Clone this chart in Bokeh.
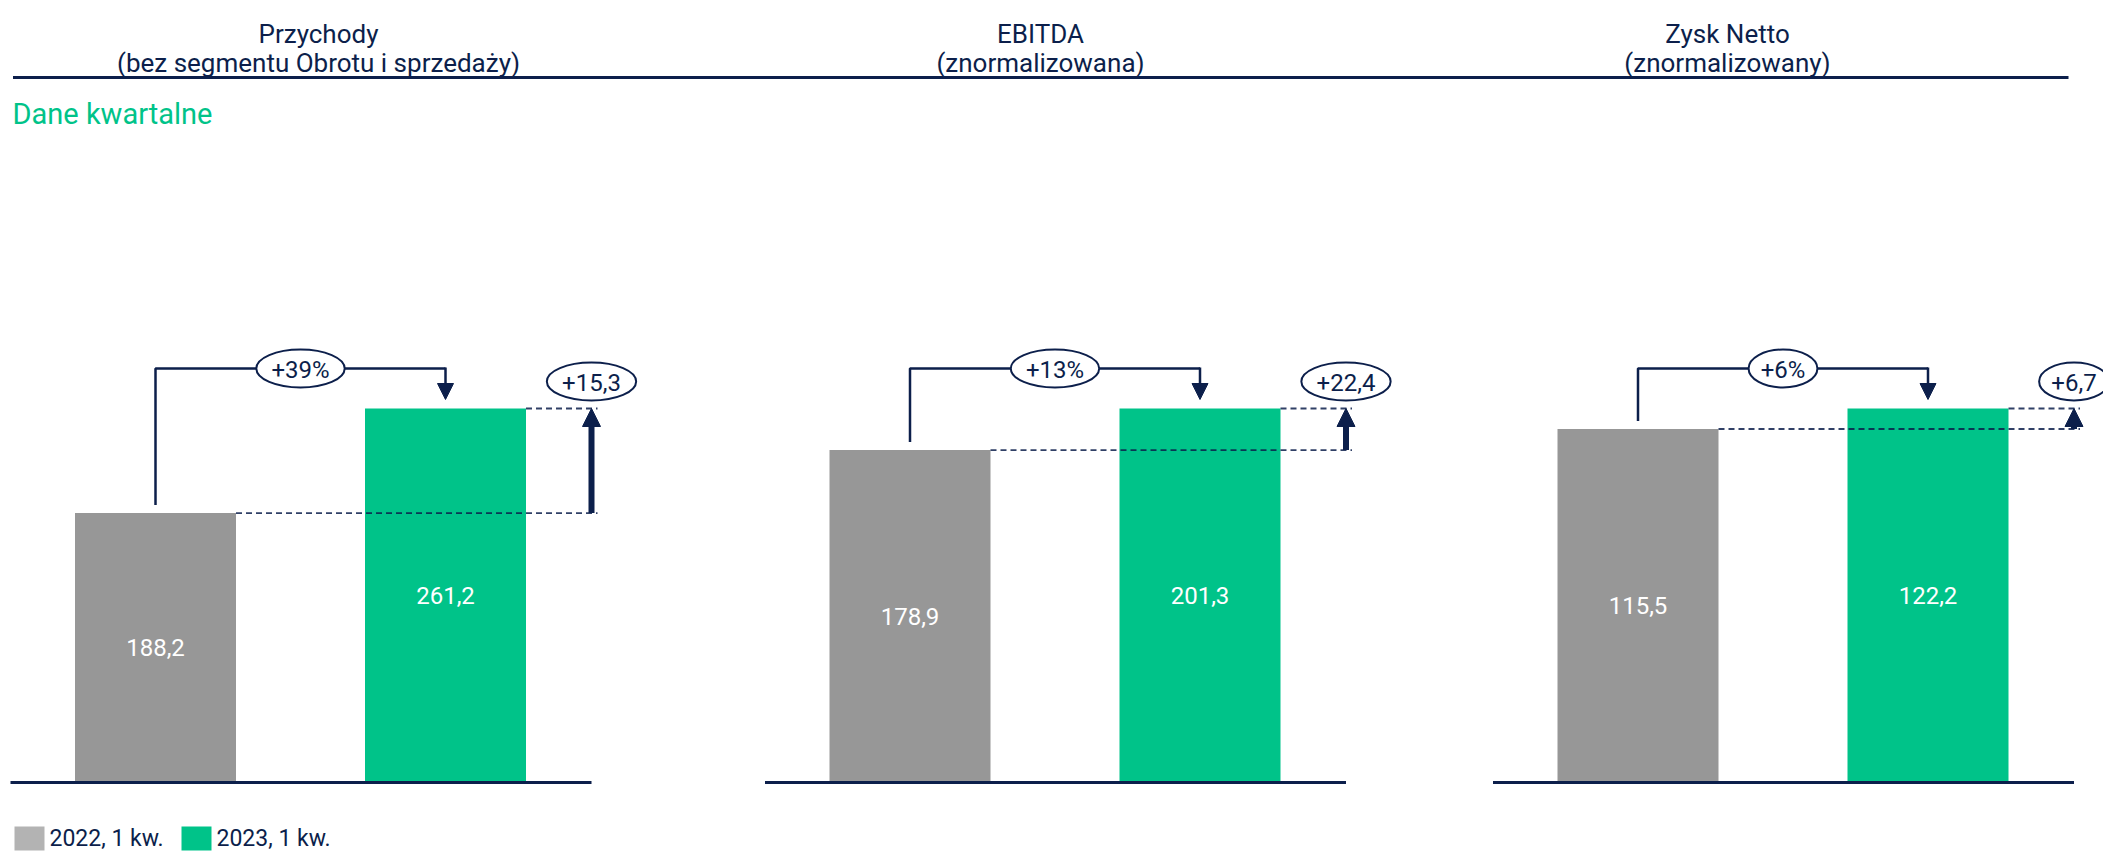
from bokeh.plotting import figure
from bokeh.models import Range1d, Arrow, NormalHead, ColumnDataSource
from bokeh.core.properties import value
from bokeh.embed import file_html
from bokeh.resources import INLINE

# ---------------- data ----------------
titles_line1 = ["Przychody", "EBITDA", "Zysk Netto"]
titles_line2 = ["(bez segmentu Obrotu i sprzedaży)", "(znormalizowana)", "(znormalizowany)"]
values_2022 = [188.2, 178.9, 115.5]
values_2023 = [261.2, 201.3, 122.2]
labels_2022 = ["188,2", "178,9", "115,5"]
labels_2023 = ["261,2", "201,3", "122,2"]
pct_labels = ["+39%", "+13%", "+6%"]
diff_labels = ["+15,3", "+22,4", "+6,7"]
legend_labels = ["2022, 1 kw.", "2023, 1 kw."]
subtitle = "Dane kwartalne"

# ---------------- style / layout ----------------
NAVY = "#0c1f4b"
GRAY = "#979797"
GRAY_LEG = "#b3b3b3"
GREEN = "#00c389"
FONT = "Roboto"

W, H = 2103, 861
panel_x = [155, 909.5, 1637.5]      # centre of first bar in each panel
title_x = [318, 1040, 1727]
BAR_GAP = 290
BAR_W = 161
BASE_Y = 782                        # baseline, px from top
BAR_PX = 374                        # pixel height of the taller bar
BRACKET_Y = 368
DIFF_DX = 436
DIFF_Y = 381

p = figure(width=W, height=H, output_backend="svg", toolbar_location=None,
           x_range=Range1d(0, W), y_range=Range1d(H, 0),
           min_border=0, outline_line_color=None)
p.axis.visible = False
p.grid.visible = False
p.background_fill_color = "white"


def tw(s, size):
    widths = {"+": 0.568, ",": 0.197, "%": 0.733}
    return sum(widths.get(c, 0.562) for c in s) * size


for i in range(3):
    gx = panel_x[i]
    v0, v1 = values_2022[i], values_2023[i]
    k = BAR_PX / v1
    rn = f"p{i}"
    p.extra_y_ranges[rn] = Range1d(start=-(H - BASE_Y) / k, end=BASE_Y / k)

    def ypx(v):
        return BASE_Y - v * k

    src = ColumnDataSource(dict(x=[gx, gx + BAR_GAP], top=[v0, v1],
                                mid=[v0 / 2, v1 / 2], color=[GRAY, GREEN],
                                lab=[labels_2022[i], labels_2023[i]]))
    p.vbar(x="x", top="top", bottom=0, width=BAR_W, fill_color="color",
           line_color=None, source=src, y_range_name=rn)
    p.text(x="x", y="mid", text="lab", source=src, y_range_name=rn,
           text_align="center", text_baseline="middle", text_color="white",
           text_font=value(FONT), text_font_size=value("24px"))

    # baseline
    p.segment(x0=[gx - 145], x1=[gx + DIFF_DX], y0=[0], y1=[0],
              line_color=NAVY, line_width=3, y_range_name=rn)

    # dashed reference lines
    p.segment(x0=[gx + BAR_W / 2, gx + BAR_GAP + BAR_W / 2],
              x1=[gx + DIFF_DX + 6, gx + DIFF_DX + 6],
              y0=[v0, v1], y1=[v0, v1], line_color=NAVY, line_width=1.8,
              line_dash="6 4", line_alpha=0.85, y_range_name=rn)

    # bracket with percentage
    p.line(x=[gx, gx, gx + BAR_GAP], y=[ypx(v0) - 8, BRACKET_Y, BRACKET_Y],
           line_color=NAVY, line_width=2.5)
    p.add_layout(Arrow(x_start=gx + BAR_GAP, y_start=BRACKET_Y - 1,
                       x_end=gx + BAR_GAP, y_end=ypx(v1) - 9,
                       line_color=NAVY, line_width=2.5,
                       end=NormalHead(size=16, fill_color=NAVY, line_color=NAVY, line_width=1)))
    pw = tw(pct_labels[i], 24) * 1.45 + 4
    p.ellipse(x=[gx + BAR_GAP / 2], y=[BRACKET_Y], width=[pw], height=[38],
              fill_color="white", line_color=NAVY, line_width=2)
    p.text(x=[gx + BAR_GAP / 2], y=[BRACKET_Y + 1], text=[pct_labels[i]],
           text_align="center", text_baseline="middle", text_color=NAVY,
           text_font=value(FONT), text_font_size=value("24px"))

    # difference arrow
    p.add_layout(Arrow(x_start=gx + DIFF_DX, y_start=v0, x_end=gx + DIFF_DX, y_end=v1,
                       y_range_name=rn, line_color=NAVY, line_width=6,
                       end=NormalHead(size=18, fill_color=NAVY, line_color=NAVY, line_width=1)))
    dw = tw(diff_labels[i], 24) * 1.45 + 4
    p.ellipse(x=[gx + DIFF_DX], y=[DIFF_Y], width=[dw], height=[38],
              fill_color="white", line_color=NAVY, line_width=2)
    p.text(x=[gx + DIFF_DX], y=[DIFF_Y + 1], text=[diff_labels[i]],
           text_align="center", text_baseline="middle", text_color=NAVY,
           text_font=value(FONT), text_font_size=value("24px"))

    # titles
    p.text(x=[title_x[i], title_x[i]], y=[33, 62],
           text=[titles_line1[i], titles_line2[i]],
           text_align="center", text_baseline="alphabetic", text_color=NAVY,
           text_font=value(FONT), text_font_size=value("26px"))

# header rule and subtitle
p.segment(x0=[12.5], x1=[2068], y0=[77], y1=[77], line_color=NAVY, line_width=3)
p.text(x=[12], y=[113], text=[subtitle], text_align="left",
       text_baseline="alphabetic", text_color=GREEN,
       text_font=value(FONT), text_font_size=value("29px"))

# legend
leg_x = [14, 181]
leg_col = [GRAY_LEG, GREEN]
p.quad(left=leg_x, right=[x + 30 for x in leg_x], top=[826] * 2, bottom=[850] * 2,
       fill_color=leg_col, line_color=None)
p.text(x=[x + 35 for x in leg_x], y=[838] * 2, text=legend_labels,
       text_align="left", text_baseline="middle", text_color=NAVY,
       text_font=value(FONT), text_font_size=value("23px"))

open("out.html", "w").write(file_html(p, INLINE))
